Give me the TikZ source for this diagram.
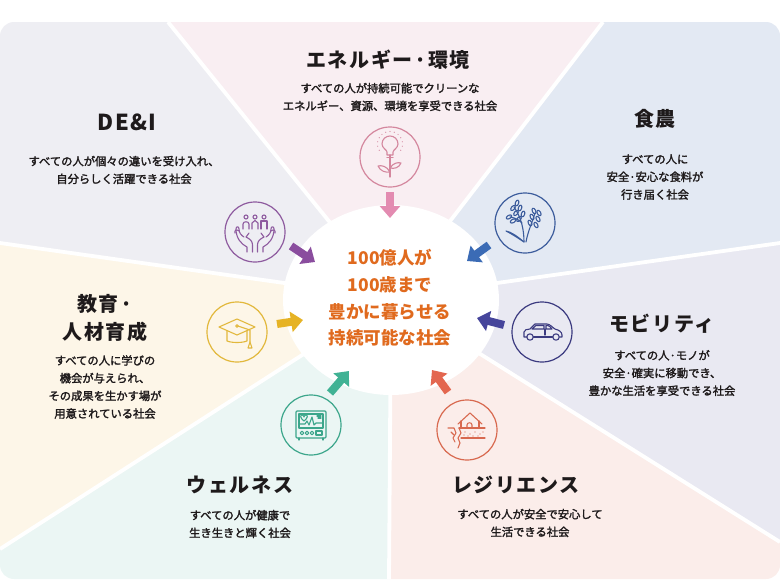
\documentclass[tikz,border=0pt]{standalone}
\usepackage{fontspec}
\setmainfont{Noto Sans CJK JP}
\usetikzlibrary{arrows.meta}
\definecolor{txt}{HTML}{1E1A1B}
\definecolor{ctr}{HTML}{E06A1E}
\definecolor{fDEI}{HTML}{EEEEF3}
\definecolor{fEN}{HTML}{F9EEF2}
\definecolor{fFO}{HTML}{E3E9F3}
\definecolor{fMO}{HTML}{E9E9F2}
\definecolor{fRE}{HTML}{FBEDEA}
\definecolor{fWE}{HTML}{EBF6F4}
\definecolor{fED}{HTML}{FDF6E8}
\definecolor{cDEI}{HTML}{8E5B9F}
\definecolor{aDEI}{HTML}{8A4D9E}
\definecolor{cEN}{HTML}{D4879E}
\definecolor{aEN}{HTML}{E38BB1}
\definecolor{cFO}{HTML}{3C5C9C}
\definecolor{aFO}{HTML}{3B6BB5}
\definecolor{cMO}{HTML}{3B3A80}
\definecolor{aMO}{HTML}{46459B}
\definecolor{cRE}{HTML}{D8694F}
\definecolor{aRE}{HTML}{E3664F}
\definecolor{cWE}{HTML}{3CA68B}
\definecolor{aWE}{HTML}{40B294}
\definecolor{cED}{HTML}{E2B83C}
\definecolor{aED}{HTML}{E6B325}
\tikzset{
  ttl/.style={font=\fontsize{20}{28}\selectfont\bfseries\addfontfeature{LetterSpace=8}, text=txt, align=center, inner sep=0pt},
  dsc/.style={font=\fontsize{11.3}{17.7}\selectfont\addfontfeature{FakeBold=2}, text=txt, align=center, inner sep=0pt},
  ctrtext/.style={font=\fontsize{17.5}{26.7}\selectfont\bfseries, text=ctr, align=center, inner sep=0pt},
  iconring/.style={circle, draw=#1, line width=1.2pt, minimum size=60pt, inner sep=0pt},
  iconart/.style={draw=#1, line width=1.1pt, line cap=round, line join=round},
  bigarrow/.style={draw=#1, line width=8pt, -{Triangle[width=20pt,length=12pt]}},
  sepline/.style={draw=white, line width=3.8pt},
}
\begin{document}
\begin{tikzpicture}[x=1pt,y=-1pt]
\useasboundingbox (0,0) rectangle (780,584);
\coordinate (C) at (391,298);
\coordinate (P1) at (168,22);
\coordinate (P2) at (603,22);
\coordinate (P3) at (780,243);
\coordinate (P4) at (780,542);
\coordinate (P5) at (389,579);
\coordinate (P6) at (0,549);
\coordinate (P7) at (0,243);
% sectors
\begin{scope}
\clip[rounded corners=14pt] (0,22) rectangle (780,579);
\fill[fDEI] (C) -- (P7) -- (-10,10) -- (P1) -- cycle;
\fill[fEN] (C) -- (P1) -- (P2) -- cycle;
\fill[fFO] (C) -- (P2) -- (790,10) -- (P3) -- cycle;
\fill[fMO] (C) -- (P3) -- (P4) -- cycle;
\fill[fRE] (C) -- (P4) -- (790,590) -- (P5) -- cycle;
\fill[fWE] (C) -- (P5) -- (-10,590) -- (P6) -- cycle;
\fill[fED] (C) -- (P6) -- (P7) -- cycle;
\end{scope}
\foreach \p in {P1,P2,P3,P4,P5,P6,P7} \draw[sepline] (C) -- (\p);
% centre
\fill[white] (391,300) ellipse [x radius=108, y radius=95];
\node[ctrtext] (centre) at (390,298) {100億人が\\100歳まで\\豊かに暮らせる\\持続可能な社会};

% titles and descriptions
\node[ttl] (tEN) at (388,60) {エネルギー·環境};
\node[dsc] (dEN) at (390,97) {すべての人が持続可能でクリーンな\\エネルギー、資源、環境を享受できる社会};
\node[ttl, font=\fontsize{22}{28}\selectfont\bfseries\addfontfeature{LetterSpace=6}] (tDEI) at (127,122) {DE\&I};
\node[dsc] (dDEI) at (124,170) {すべての人が個々の違いを受け入れ、\\自分らしく活躍できる社会};
\node[ttl] (tFO) at (655,119) {食農};
\node[dsc] (dFO) at (655,177) {すべての人に\\安全·安心な食料が\\行き届く社会};
\node[ttl] (tED) at (105,318) {教育·\\人材育成};
\node[dsc] (dED) at (105,387) {すべての人に学びの\\機会が与えられ、\\その成果を生かす場が\\用意されている社会};
\node[ttl] (tMO) at (662,324) {モビリティ};
\node[dsc] (dMO) at (662,373) {すべての人·モノが\\安全·確実に移動でき、\\豊かな生活を享受できる社会};
\node[ttl] (tWE) at (240,485) {ウェルネス};
\node[dsc] (dWE) at (240,524) {すべての人が健康で\\生き生きと輝く社会};
\node[ttl] (tRE) at (516,485) {レジリエンス};
\node[dsc] (dRE) at (530,523) {すべての人が安全で安心して\\生活できる社会};

% icon rings
\node[iconring=cEN] (iEN) at (390,157) {};
\node[iconring=cDEI] (iDEI) at (255,232) {};
\node[iconring=cFO] (iFO) at (525,223) {};
\node[iconring=cMO] (iMO) at (542,332) {};
\node[iconring=cRE] (iRE) at (467,430) {};
\node[iconring=cWE] (iWE) at (311,425) {};
\node[iconring=cED] (iED) at (237,332) {};

% arrows
\coordinate (aEN1) at (390,192); \coordinate (aEN2) at (390,218);
\coordinate (aDEI1) at (291,246); \coordinate (aDEI2) at (315,262);
\coordinate (aFO1) at (489,245); \coordinate (aFO2) at (467,261);
\coordinate (aMO1) at (504,325); \coordinate (aMO2) at (477,318);
\coordinate (aRE1) at (448,392); \coordinate (aRE2) at (432,370);
\coordinate (aWE1) at (330,393); \coordinate (aWE2) at (349,371);
\coordinate (aED1) at (277,324); \coordinate (aED2) at (303,320);
\draw[bigarrow=aEN] (aEN1) -- (aEN2);
\draw[bigarrow=aDEI] (aDEI1) -- (aDEI2);
\draw[bigarrow=aFO] (aFO1) -- (aFO2);
\draw[bigarrow=aMO] (aMO1) -- (aMO2);
\draw[bigarrow=aRE] (aRE1) -- (aRE2);
\draw[bigarrow=aWE] (aWE1) -- (aWE2);
\draw[bigarrow=aED] (aED1) -- (aED2);

% icon: energy (bulb + plant)
\begin{scope}[shift={(iEN.center)}, iconart=cEN]
\draw (-3,-2) -- (-3,-5) .. controls (-3,-7) and (-8,-9) .. (-8,-13) .. controls (-8,-18) and (-4,-21) .. (0,-21) .. controls (4,-21) and (8,-18) .. (8,-13) .. controls (8,-9) and (3,-7) .. (3,-5) -- (3,-2) -- cycle;
\draw (-3,0.5) -- (3,0.5);
\draw (0,-2) -- (0,20);
\foreach \a in {-30,-10,...,210} \fill[cEN] ({12.5*cos(\a)},{-13-12.5*sin(\a)}) circle (0.6);
\draw (0,15) .. controls (-3,9) and (-9,8) .. (-12,9) .. controls (-10,14) and (-4,16) .. (0,15);
\draw (0,11) .. controls (3,6) and (8,5) .. (11,6) .. controls (9,11) and (4,12) .. (0,11);
\end{scope}

% icon: DE&I (people + hands)
\begin{scope}[shift={(iDEI.center)}, iconart=cDEI]
\draw (-9,-15) circle (2);
\draw (0,-15) circle (2);
\draw (9,-15) circle (2);
\draw (-12,-3) -- (-12,-8) .. controls (-12,-11) and (-6,-11) .. (-6,-8) -- (-6,-3);
\draw (-3,-3) -- (-3,-9) -- (0,-11.5) -- (3,-9) -- (3,-3);
\draw (6,-3) -- (6,-11) -- (12,-11) -- (12,-3);
\foreach \s in {1,-1} {
\begin{scope}[xscale=\s]
\draw (-2.5,20) -- (-2.5,13) .. controls (-2.5,9) and (-5,7) .. (-9,5) -- (-6,1);
\draw (-8,20) -- (-8,15) .. controls (-14,12) and (-19,6) .. (-19,-3) .. controls (-19,-6) and (-16,-6) .. (-16,-3) .. controls (-16,1) and (-14,3) .. (-11,5);
\draw (-16,-1) .. controls (-18,-3) and (-21,-2) .. (-20,1);
\end{scope}}
\end{scope}

% icon: food (rice stalks)
\begin{scope}[shift={(iFO.center)}, iconart=cFO]
\draw (-1,19) .. controls (-1,6) and (-4,-6) .. (-11,-16);
\draw (1,19) .. controls (3,8) and (7,0) .. (10,-10);
\draw (-1,19) .. controls (-8,13) and (-14,9) .. (-19,8) .. controls (-13,11) and (-7,15) .. (-1,19);
\draw (-3,0) .. controls (-6,-3) and (-9,-5) .. (-15,-6);
\foreach \x/\y/\r in {-6/-4/-40,-9/-10/-40,-12/-15/-40,-2/-9/-20,-5/-15/-20,-8/-20/-20,-12/-2/-60,-16/-6/-60} \draw[rotate around={\r:(\x,\y)}] (\x,\y) ellipse [x radius=1.7, y radius=3];
\foreach \x/\y/\r in {5/0/25,7/-6/25,9/-12/25,11/2/30,13/-4/30,14/-10/30} \draw[rotate around={\r:(\x,\y)}] (\x,\y) ellipse [x radius=1.7, y radius=3];
\end{scope}

% icon: mobility (car)
\begin{scope}[shift={(iMO.center)}, iconart=cMO]
\draw (-15,5) -- (-18,5) -- (-18,0) .. controls (-18,-2) and (-15,-3) .. (-12,-3) -- (-7,-8) -- (5,-8) .. controls (8,-8) and (11,-4) .. (13,-3) .. controls (17,-2) and (20,0) .. (20,3) -- (20,5) -- (17.5,5);
\draw (-8.5,5) -- (10.5,5);
\draw (-12,5) circle (3.2);
\draw (14,5) circle (3.2);
\draw (-10,-3) -- (-6,-6.5) -- (2,-6.5) -- (2,-3) -- cycle;
\draw (4,-6.5) -- (6,-6.5) .. controls (8,-6) and (9,-4) .. (10,-3) -- (4,-3) -- cycle;
\draw (3,-3) -- (3,3);
\end{scope}

% icon: resilience (house + ground crack)
\begin{scope}[shift={(iRE.center)}, iconart=cRE]
\draw (-9,-6) -- (3,-17) -- (15,-6);
\draw (-6,-9) -- (-6,-2);
\draw (12,-9) -- (12,-2);
\draw (0,-2) -- (0,-5) .. controls (0,-8) and (5,-8) .. (5,-5) -- (5,-2);
\draw (-8,-2) -- (18,-2);
\draw (-6,8) -- (18,8);
\draw (-8,-2) -- (-6,3) -- (-9,8) -- (-7,13) -- (-9,18);
\draw (-19,-2) -- (-13,-2) -- (-11,3) -- (-14,8) -- (-12,12);
\draw (-16,2) -- (-13,5);
\foreach \x/\y in {-2/2,3/4,8/2,13/4,1/6,6/6,11/6,16/2,-3/5} \fill[cRE] (\x,\y) circle (0.7);
\end{scope}

% icon: wellness (monitor)
\begin{scope}[shift={(iWE.center)}, iconart=cWE]
\draw[rounded corners=1pt] (-15,-14) rectangle (15,13);
\draw (-12,-11) rectangle (12,3);
\draw (-7,-4) .. controls (-11,-7) and (-11,-10) .. (-9,-10) .. controls (-8,-10) and (-7,-9) .. (-7,-8) .. controls (-7,-9) and (-6,-10) .. (-5,-10) .. controls (-3,-10) and (-3,-7) .. (-7,-4);
\draw (-11,-1) -- (-6,-1) -- (-4,-4) -- (-2,0) -- (1,-8) -- (3,0) -- (5,-2) -- (11,-2);
\draw (6,-9) -- (10,-9);
\draw (7,-7) -- (10,-7);
\draw (-9,8) circle (1.8);
\draw (-4,8) circle (1.8);
\draw (1,8) circle (1.8);
\draw (5,6) rectangle (11,10);
\draw (-12,13) -- (-12,15);
\draw (12,13) -- (12,15);
\end{scope}

% icon: education (mortarboard)
\begin{scope}[shift={(iED.center)}, iconart=cED]
\draw (-18,-5) -- (0,-13) -- (18,-5) -- (0,3) -- cycle;
\draw (-10,-1) -- (-10,9) .. controls (-5,11) and (5,11) .. (10,9) -- (10,-1);
\draw (0,-6) circle (1.3);
\draw (1,-6) -- (13,-2) -- (13,10);
\draw (13,10) -- (11,16) -- (15,16) -- cycle;
\end{scope}
\end{tikzpicture}
\end{document}
